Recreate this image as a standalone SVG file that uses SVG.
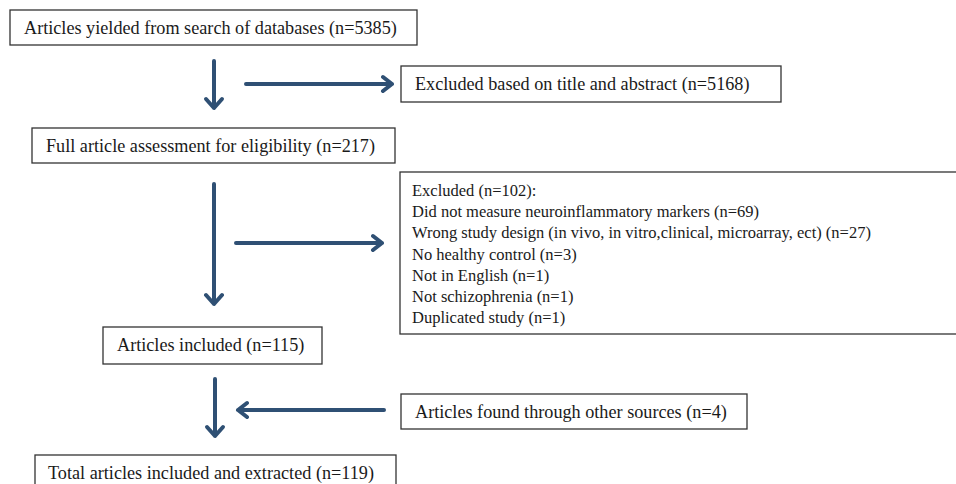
<svg xmlns="http://www.w3.org/2000/svg" width="956" height="484" viewBox="0 0 956 484">
<style>
.box{fill:#fff;stroke:#333;stroke-width:1.3}
text{font-family:"Liberation Serif","Times New Roman",serif;font-size:18.2px;fill:#1a1a1a}
text.list{font-size:16.5px}
.arr{fill:none;stroke:#2f5074;stroke-width:4;stroke-linecap:round;stroke-linejoin:round}
</style>
<rect width="956" height="484" fill="#fff"/>
<g id="connectors">
<path class="arr" d="M214 61V108M206 99L214 108L222 99"/>
<path class="arr" d="M246 84H392M383 77L392 84L383 91"/>
<path class="arr" d="M214 184V304M206 295L214 304L222 295"/>
<path class="arr" d="M236 243H382M373 236L382 243L373 250"/>
<path class="arr" d="M215 379V436M207 427L215 436L223 427"/>
<path class="arr" d="M384 410H238M247 403L238 410L247 417"/>
</g>
<g id="n1"><rect class="box" x="10" y="10" width="407" height="35"/><text x="24" y="34">Articles yielded from search of databases (n=5385)</text></g>
<g id="n2"><rect class="box" x="401" y="66" width="380" height="36"/><text x="415" y="90">Excluded based on title and abstract (n=5168)</text></g>
<g id="n3"><rect class="box" x="32" y="128" width="363" height="35"/><text x="46" y="152">Full article assessment for eligibility (n=217)</text></g>
<g id="n4"><rect class="box" x="400" y="172" width="560" height="162"/>
<text class="list" x="412"><tspan x="412" y="196">Excluded (n=102):</tspan><tspan x="412" y="217">Did not measure neuroinflammatory markers (n=69)</tspan><tspan x="412" y="238">Wrong study design (in vivo, in vitro,clinical, microarray, ect) (n=27)</tspan><tspan x="412" y="260">No healthy control (n=3)</tspan><tspan x="412" y="281">Not in English (n=1)</tspan><tspan x="412" y="302">Not schizophrenia (n=1)</tspan><tspan x="412" y="323">Duplicated study (n=1)</tspan></text></g>
<g id="n5"><rect class="box" x="103" y="327" width="219" height="37"/><text x="117" y="351">Articles included (n=115)</text></g>
<g id="n6"><rect class="box" x="401" y="394" width="346" height="35"/><text x="415" y="418">Articles found through other sources (n=4)</text></g>
<g id="n7"><rect class="box" x="35" y="455" width="361" height="40"/><text x="48" y="479">Total articles included and extracted (n=119)</text></g>
</svg>
